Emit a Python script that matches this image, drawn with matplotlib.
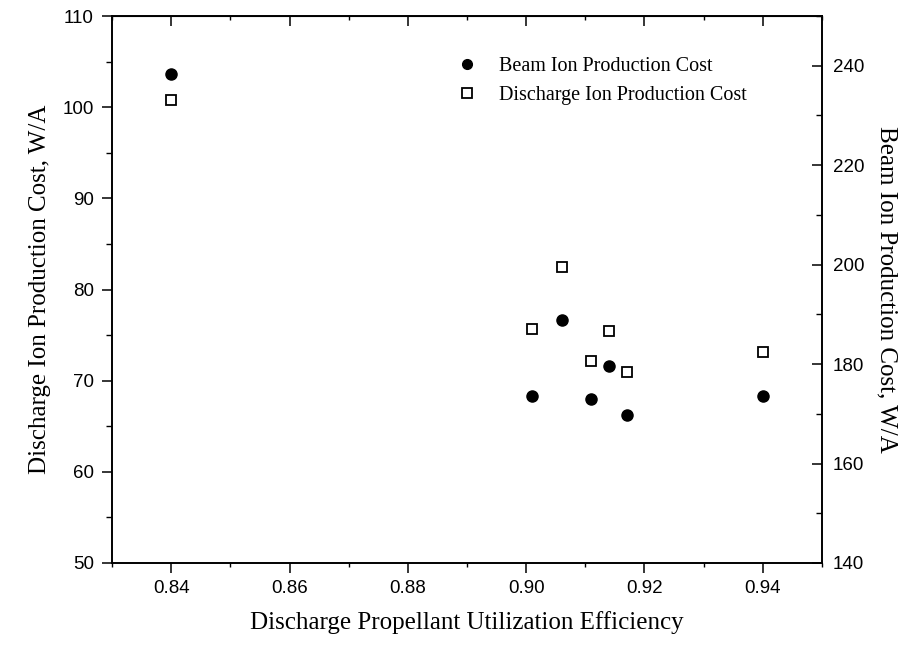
import numpy as np
import matplotlib
matplotlib.use('Agg')
import matplotlib.pyplot as plt
from matplotlib.ticker import MultipleLocator
from matplotlib.lines import Line2D

# Dados
eficiencia = [0.840, 0.901, 0.906, 0.911, 0.914, 0.917, 0.940]
custo_descarga = [100.8, 75.7, 82.5, 72.2, 75.4, 70.9, 73.1]   # eixo esquerdo (W/A)
custo_feixe = [238.3, 173.5, 188.8, 172.9, 179.7, 169.7, 173.5]  # eixo direito (W/A)

fonte_serif = 'Liberation Serif'
fonte_sans = 'Liberation Sans'

fig = plt.figure(figsize=(9.13, 6.46), dpi=100)
ax = fig.add_axes([0.1227, 0.1285, 0.7776, 0.8467])
ax2 = ax.twinx()

ax.plot(eficiencia, custo_descarga, 's', markersize=7, markerfacecolor='white',
        markeredgecolor='black', markeredgewidth=1.3, zorder=3)
ax2.plot(eficiencia, custo_feixe, 'o', markersize=8, color='black', zorder=3)

ax.set_xlim(0.83, 0.95)
ax.set_ylim(50, 110)
ax2.set_ylim(140, 250)

ax.xaxis.set_major_locator(MultipleLocator(0.02))
ax.xaxis.set_minor_locator(MultipleLocator(0.01))
ax.yaxis.set_major_locator(MultipleLocator(10))
ax.yaxis.set_minor_locator(MultipleLocator(5))
ax2.yaxis.set_major_locator(MultipleLocator(20))
ax2.yaxis.set_minor_locator(MultipleLocator(10))
ax.xaxis.set_major_formatter(matplotlib.ticker.FormatStrFormatter('%.2f'))

for a in (ax, ax2):
    for s in a.spines.values():
        s.set_linewidth(1.2)

ax.tick_params(axis='x', which='both', direction='out', top=False)
ax.tick_params(axis='x', which='major', length=7, width=1.1, labelsize=13.5, pad=5)
ax.tick_params(axis='x', which='minor', length=3, width=1.0)
ax.tick_params(axis='y', which='major', direction='out', length=7, width=1.1, labelsize=13.5, pad=6)
ax.tick_params(axis='y', which='minor', direction='out', length=4, width=1.0)
ax2.tick_params(axis='y', which='major', direction='in', length=7, width=1.1, labelsize=13.5, pad=8)
ax2.tick_params(axis='y', which='minor', direction='in', length=4, width=1.0)

# ticks do topo para dentro
sec = ax.secondary_xaxis('top')
sec.xaxis.set_major_locator(MultipleLocator(0.02))
sec.xaxis.set_minor_locator(MultipleLocator(0.01))
sec.tick_params(which='major', direction='in', length=7, width=1.1, labeltop=False)
sec.tick_params(which='minor', direction='in', length=3, width=1.0)

for lab in ax.get_xticklabels() + ax.get_yticklabels() + ax2.get_yticklabels():
    lab.set_family(fonte_sans)

ax.set_xlabel('Discharge Propellant Utilization Efficiency', fontsize=18,
              family=fonte_serif, labelpad=10)
ax.set_ylabel('Discharge Ion Production Cost, W/A', fontsize=18,
              family=fonte_serif, labelpad=8)
ax2.set_ylabel('Beam Ion Production Cost, W/A', fontsize=18,
               family=fonte_serif, rotation=270, labelpad=24)

alcas = [Line2D([], [], marker='o', linestyle='none', color='black', markersize=7),
         Line2D([], [], marker='s', linestyle='none', markerfacecolor='white',
                markeredgecolor='black', markeredgewidth=1.3, markersize=6.5)]
leg = ax2.legend(alcas, ['Beam Ion Production Cost', 'Discharge Ion Production Cost'],
                 loc='upper left', bbox_to_anchor=(447 / 913, 1 - 47 / 646),
                 bbox_transform=fig.transFigure, frameon=False, handlelength=1.0,
                 handletextpad=1.1, labelspacing=0.5, borderpad=0,
                 prop={'family': fonte_serif, 'size': 14.5})

fig.savefig('out.png', dpi=100)
